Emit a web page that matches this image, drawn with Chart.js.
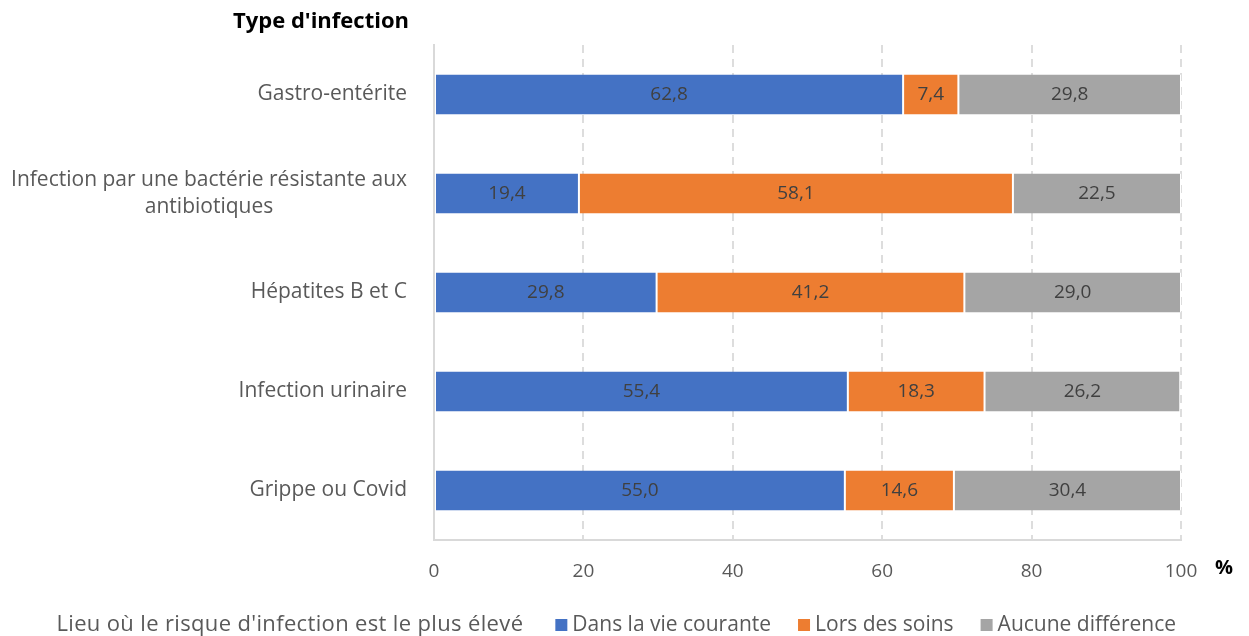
<!DOCTYPE html>
<html lang="fr">
<head>
<meta charset="utf-8">
<script src="https://cdn.jsdelivr.net/npm/chart.js@4.4.0/dist/chart.umd.min.js"></script>
<style>
  html, body { margin: 0; padding: 0; background: #fff; }
  #wrap { width: 1249px; height: 636px; position: relative; }
</style>
</head>
<body>
<div id="wrap"><canvas id="chart"></canvas></div>
<script>
const categories = [
  'Gastro-entérite',
  ['Infection par une bactérie résistante aux', 'antibiotiques'],
  'Hépatites B et C',
  'Infection urinaire',
  'Grippe ou Covid'
];
const seriesNames = ['Dans la vie courante', 'Lors des soins', 'Aucune différence'];
const dansLaVie = [62.8, 19.4, 29.8, 55.4, 55.0];
const lorsDesSoins = [7.4, 58.1, 41.2, 18.3, 14.6];
const aucuneDiff = [29.8, 22.5, 29.0, 26.2, 30.4];
const xTicks = [0, 20, 40, 60, 80, 100];

const FONT = '"Open Sans", "Noto Sans", sans-serif';
const colors = ['#4472C4', '#ED7D31', '#A5A5A5'];

// category labels drawn by hand so the two-line one can be centred like Excel does
const categoryLabels = {
  id: 'categoryLabels',
  afterDraw(chart) {
    const ctx = chart.ctx;
    const y = chart.scales.y;
    ctx.save();
    ctx.font = '21px ' + FONT;
    ctx.fillStyle = '#595959';
    ctx.textBaseline = 'middle';
    const right = 407;
    categories.forEach((lab, i) => {
      const cy = y.getPixelForTick(i);
      if (Array.isArray(lab)) {
        const widths = lab.map(l => ctx.measureText(l).width);
        const maxW = Math.max(...widths);
        const lh = 27;
        const top = cy - lh * (lab.length - 1) / 2;
        ctx.textAlign = 'center';
        lab.forEach((l, j) => ctx.fillText(l, right - maxW / 2, top + j * lh));
      } else {
        ctx.textAlign = 'right';
        ctx.fillText(lab, right, cy);
      }
    });
    ctx.restore();
  }
};

const segmentLabels = {
  id: 'segmentLabels',
  afterDatasetsDraw(chart) {
    const ctx = chart.ctx;
    ctx.save();
    ctx.font = '19px ' + FONT;
    ctx.fillStyle = '#404040';
    ctx.textAlign = 'center';
    ctx.textBaseline = 'middle';
    chart.data.datasets.forEach((ds, di) => {
      chart.getDatasetMeta(di).data.forEach((bar, i) => {
        const v = ds.data[i];
        ctx.fillText(v.toFixed(1).replace('.', ','), (bar.x + bar.base) / 2, bar.y);
      });
    });
    ctx.restore();
  }
};

const extras = {
  id: 'extras',
  afterDraw(chart) {
    const ctx = chart.ctx;
    ctx.save();
    // axis titles
    ctx.fillStyle = '#000';
    ctx.font = 'bold 22px ' + FONT;
    ctx.textBaseline = 'middle';
    ctx.textAlign = 'right';
    ctx.fillText("Type d'infection", 409, 22);
    ctx.textAlign = 'left';
    ctx.font = 'bold 20px ' + FONT;
    ctx.fillText('%', 1215, 568);

    // legend
    ctx.font = '21px ' + FONT;
    ctx.fillStyle = '#595959';
    const ly = 625;
    const box = 12, gapText = 5, gapItem = 27;
    const widths = seriesNames.map(n => ctx.measureText(n).width);
    const total = widths.reduce((a, w) => a + box + gapText + w, 0) + gapItem * (seriesNames.length - 1);
    let x = 1176 - total;
    ctx.save();
    ctx.font = '22px ' + FONT;
    ctx.letterSpacing = '0.35px';
    ctx.textAlign = 'right';
    ctx.fillText("Lieu où le risque d'infection est le plus élevé", x - 32, ly);
    ctx.restore();
    ctx.textAlign = 'left';
    chart.data.datasets.forEach((ds, i) => {
      ctx.fillStyle = ds.backgroundColor;
      ctx.fillRect(x, ly - box / 2, box, box);
      ctx.fillStyle = '#595959';
      ctx.fillText(ds.label, x + box + gapText, ly);
      x += box + gapText + widths[i] + gapItem;
    });
    ctx.restore();
  }
};

const datasets = [dansLaVie, lorsDesSoins, aucuneDiff].map((data, i) => ({
  label: seriesNames[i],
  data: data,
  backgroundColor: colors[i],
  borderColor: '#ffffff',
  borderWidth: { left: 1, right: 1, top: 0, bottom: 0 },
  borderSkipped: false,
  categoryPercentage: 1,
  barPercentage: 0.404
}));

new Chart(document.getElementById('chart'), {
  type: 'bar',
  data: { labels: categories.map(c => Array.isArray(c) ? c.join(' ') : c), datasets: datasets },
  options: {
    indexAxis: 'y',
    responsive: true,
    maintainAspectRatio: false,
    animation: false,
    layout: { padding: { top: 45, right: 68, bottom: 48, left: 0 } },
    scales: {
      x: {
        stacked: true,
        min: 0,
        max: 100,
        afterBuildTicks: (scale) => { scale.ticks = xTicks.map(v => ({ value: v })); },
        afterFit: (scale) => { scale.height = 48; },
        grid: { color: '#DDDDDD', lineWidth: 2, drawTicks: false },
        border: { display: true, color: '#D9D9D9', width: 2, dash: [8, 6] },
        ticks: { padding: 20, color: '#595959', font: { family: FONT, size: 19 } }
      },
      y: {
        stacked: true,
        afterFit: (scale) => { scale.width = 434; },
        grid: { display: false },
        border: { display: true, color: '#D9D9D9', width: 2 },
        ticks: { display: false }
      }
    },
    plugins: {
      legend: { display: false },
      tooltip: { enabled: false }
    }
  },
  plugins: [segmentLabels, categoryLabels, extras]
});
</script>
</body>
</html>
